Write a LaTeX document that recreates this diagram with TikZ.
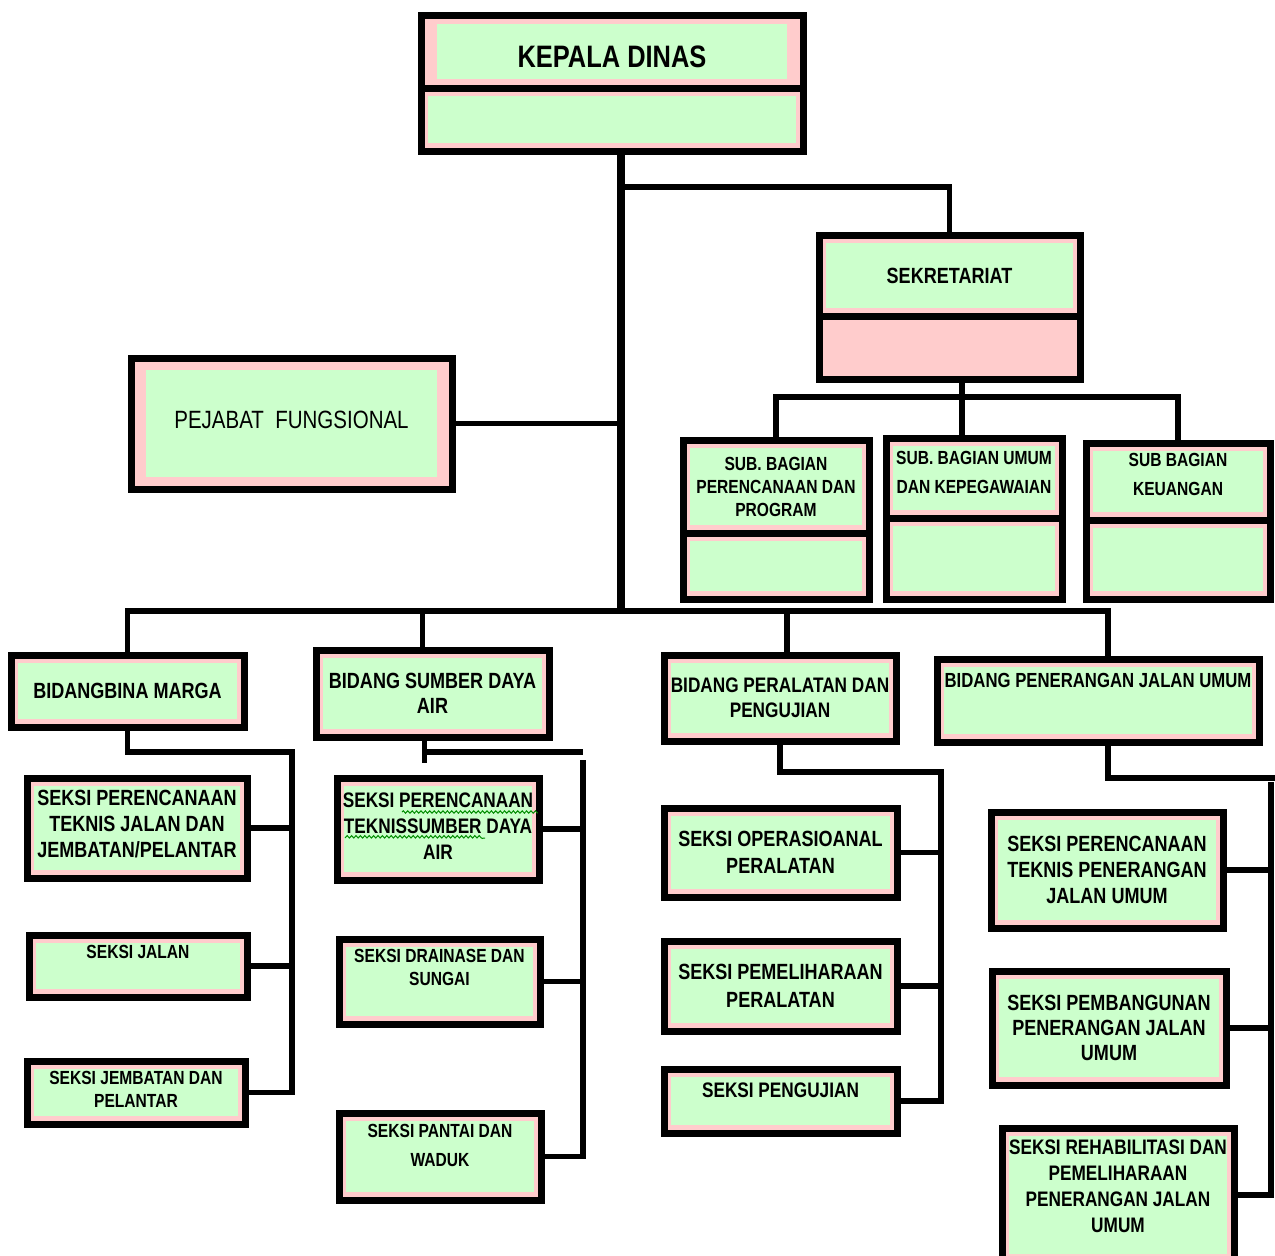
\documentclass[tikz,border=0pt]{standalone}
\usepackage{fontspec}
\setmainfont{Liberation Sans}[FakeStretch=0.82]
\usetikzlibrary{
  positioning,
  calc,
  decorations.pathmorphing, % spell-check squiggles
}
\definecolor{pinkbg}{RGB}{255,204,204}
\definecolor{greenbg}{RGB}{204,255,204}
\def\myboxlw{3.5pt}
\def\mylinelw{2.8pt}
\tikzset{
  gap x/.store in=\gapx,
  gap y/.store in=\gapy,
  gap x=3.5pt,
  gap y=4.2pt,
  my box/.style={
    draw,
    line width=\myboxlw,
    fill=pinkbg,
    inner sep=0pt,
    align=center,
    path picture={
      \fill[greenbg]
        ([shift={(\gapx,-\gapy)}]path picture bounding box.north west) rectangle
        ([shift={(-\gapx,\gapy)}]path picture bounding box.south east);
    }
  },
  my plain box/.style={
    draw,
    line width=\myboxlw,
    fill=pinkbg
  },
  wh/.style 2 args={
    minimum width=#1,
    minimum height=#2
  },
  txt/.style 2 args={
    font=\bfseries\fontsize{#1}{#2}\selectfont
  },
  link/.style={
    line width=\mylinelw
  },
  trunk/.style={
    line width=4pt
  },
  squiggle/.style={
    draw=green!55!black,
    line width=0.5pt,
    decorate,
    decoration={snake,amplitude=0.6pt,segment length=2.2pt}
  }
}

\begin{document}
\begin{tikzpicture}[x=0.5pt,y=-0.5pt]
\useasboundingbox (0,0) rectangle (1275,1255);

% top
\node[my box,wh={191pt}{36.5pt},gap x=8pt,gap y=4.3pt,txt={15.5}{18},text height=16.6pt]
  (kadis) at (612,51.5) {KEPALA DINAS};
\node[my box,wh={191pt}{31.5pt}] (kadis-low) at (612,119.5) {};

\node[my box,wh={130.5pt}{40.5pt},txt={11}{13}] (sek) at (949.5,275.5) {SEKRETARIAT};
\node[my plain box,wh={130.5pt}{31.5pt}] (sek-low) at (949.5,347.5) {};

\node[my box,wh={160.5pt}{65.5pt},gap x=7.5pt,gap y=6pt,
      font=\mdseries\fontsize{12.5}{15}\selectfont,text depth=3.5pt]
  (pejabat) at (291.5,423.5) {PEJABAT\ \ FUNGSIONAL};

% sub bagian
\node[my box,wh={93pt}{46.5pt},txt={9.5}{11.5}] (sb1) at (776,486.5)
  {SUB. BAGIAN\\PERENCANAAN DAN\\PROGRAM};
\node[my box,wh={93pt}{33pt}] (sb1-low) at (776,566) {};
\node[my box,wh={88pt}{40pt},txt={9.5}{14.5},text depth=5.5pt] (sb2) at (974,478)
  {SUB. BAGIAN UMUM\\DAN KEPEGAWAIAN};
\node[my box,wh={88pt}{40.5pt}] (sb2-low) at (974,558.5) {};
\node[my box,wh={92pt}{38.5pt},txt={9.5}{14.5},text depth=7pt] (sb3) at (1178,481.5)
  {SUB BAGIAN\\KEUANGAN};
\node[my box,wh={92pt}{39.5pt}] (sb3-low) at (1178,559.5) {};

% bidang
\node[my box,wh={116.5pt}{36pt},txt={11}{13}] (bm) at (127.5,691) {BIDANGBINA MARGA};
\node[my box,wh={116.5pt}{43.5pt},txt={11}{12.5}] (sda) at (432.5,693.5)
  {BIDANG SUMBER DAYA\\AIR};
\node[my box,wh={116pt}{43pt},txt={10.5}{12.5}] (pp) at (780,698)
  {BIDANG PERALATAN DAN\\PENGUJIAN};
\node[my box,wh={161pt}{41.5pt},txt={10.2}{12},text depth=20pt] (pju) at (1098,700.5)
  {BIDANG PENERANGAN JALAN UMUM};

% seksi bina marga
\node[my box,wh={110pt}{50pt},txt={11}{13},text depth=4pt] (s11) at (137,828)
  {SEKSI PERENCANAAN\\TEKNIS JALAN DAN\\JEMBATAN/PELANTAR};
\node[my box,wh={109pt}{31pt},txt={9.5}{11},text depth=14pt] (s12) at (138,966)
  {SEKSI JALAN};
\node[my box,wh={109pt}{31.5pt},txt={9.5}{11.5},text depth=3pt] (s13) at (136,1092.5)
  {SEKSI JEMBATAN DAN\\PELANTAR};

% seksi sumber daya air
\node[my box,wh={101pt}{51pt},txt={10.5}{13},text depth=3pt] (s21) at (438,829)
  {SEKSI PERENCANAAN\\TEKNISSUMBER DAYA\\AIR};
\node[my box,wh={100.5pt}{42.5pt},txt={9.5}{11.5},text depth=14pt] (s22) at (439.5,981.5)
  {SEKSI DRAINASE DAN\\SUNGAI};
\node[my box,wh={101pt}{43.5pt},txt={9.5}{14.5},text depth=11pt] (s23) at (440,1156.5)
  {SEKSI PANTAI DAN\\WADUK};

% seksi peralatan
\node[my box,wh={116.5pt}{44.5pt},txt={11}{13.5}] (s31) at (780.5,852.5)
  {SEKSI OPERASIOANAL\\PERALATAN};
\node[my box,wh={116.5pt}{45pt},txt={11}{14}] (s32) at (780.5,986)
  {SEKSI PEMELIHARAAN\\PERALATAN};
\node[my box,wh={116.5pt}{32pt},txt={10.5}{12},text depth=11pt] (s33) at (780.5,1101)
  {SEKSI PENGUJIAN};

% seksi penerangan jalan umum
\node[my box,wh={116pt}{58pt},txt={11}{13}] (s41) at (1107,870)
  {SEKSI PERENCANAAN\\TEKNIS PENERANGAN\\JALAN UMUM};
\node[my box,wh={117pt}{57pt},txt={11}{12.5}] (s42) at (1109,1028)
  {SEKSI PEMBANGUNAN\\PENERANGAN JALAN\\UMUM};
\node[my box,wh={116pt}{67pt},txt={10.5}{13},text depth=8.5pt] (s43) at (1118,1195)
  {SEKSI REHABILITASI DAN\\PEMELIHARAAN\\PENERANGAN JALAN\\UMUM};

\path[squiggle] ([shift={(-36,-17)}]s21.center) -- ([shift={(99,-17)}]s21.center)
                ([shift={(-93,9)}]s21.center) -- ([shift={(47,9)}]s21.center);

% connectors
\coordinate (hub)      at (621,611);
\coordinate (sek-fork) at (621,187);
\coordinate (sub-bus)  at (962,397);
\coordinate (rail1)    at (292,752);
\coordinate (rail2)    at (583,752);
\coordinate (rail3)    at (941,772);
\coordinate (rail4)    at (1271,778);

\draw[trunk] (kadis-low.south -| hub) -- (hub);
\draw[link] (sek-fork) -| (sek.north);
\draw[link] (pejabat.east) -- (pejabat.east -| hub);
\draw[link] (sek-low.south -| sub-bus) -- (sub-bus);
\draw[link] (sb1.north) |- (sub-bus) -| (sb3.north);
\draw[link] (sub-bus) -- (sub-bus |- sb2.north);

\draw[link] (bm.north) |- (hub) -| ([xshift=5pt]pju.north);
\draw[link] ([xshift=-5pt]sda.north) -- ([xshift=-5pt]sda.north |- hub);
\draw[link] ([xshift=3.5pt]pp.north) -- ([xshift=3.5pt]pp.north |- hub);

\draw[link] (bm.south) |- (rail1) |- (s13.east);
\foreach \s in {s11,s12}
  \draw[link] (\s.east) -- (\s.east -| rail1);

\draw[link] ([xshift=-4pt]sda.south) -- ++(0,22);
\draw[link] ([xshift=-4pt]sda.south |- rail2) -- (rail2);
\draw[link] ([yshift=-4pt]rail2) |- (s23.east);
\foreach \s in {s21,s22}
  \draw[link] (\s.east) -- (\s.east -| rail2);

\draw[link] (pp.south) |- (rail3) |- (s33.east);
\foreach \s in {s31,s32}
  \draw[link] (\s.east) -- (\s.east -| rail3);

\draw[link] ([xshift=5pt]pju.south) |- ([xshift=3pt]rail4);
\draw[link] ([yshift=-2pt]rail4) |- (s43.east);
\foreach \s in {s41,s42}
  \draw[link] (\s.east) -- (\s.east -| rail4);
\end{tikzpicture}
\end{document}
